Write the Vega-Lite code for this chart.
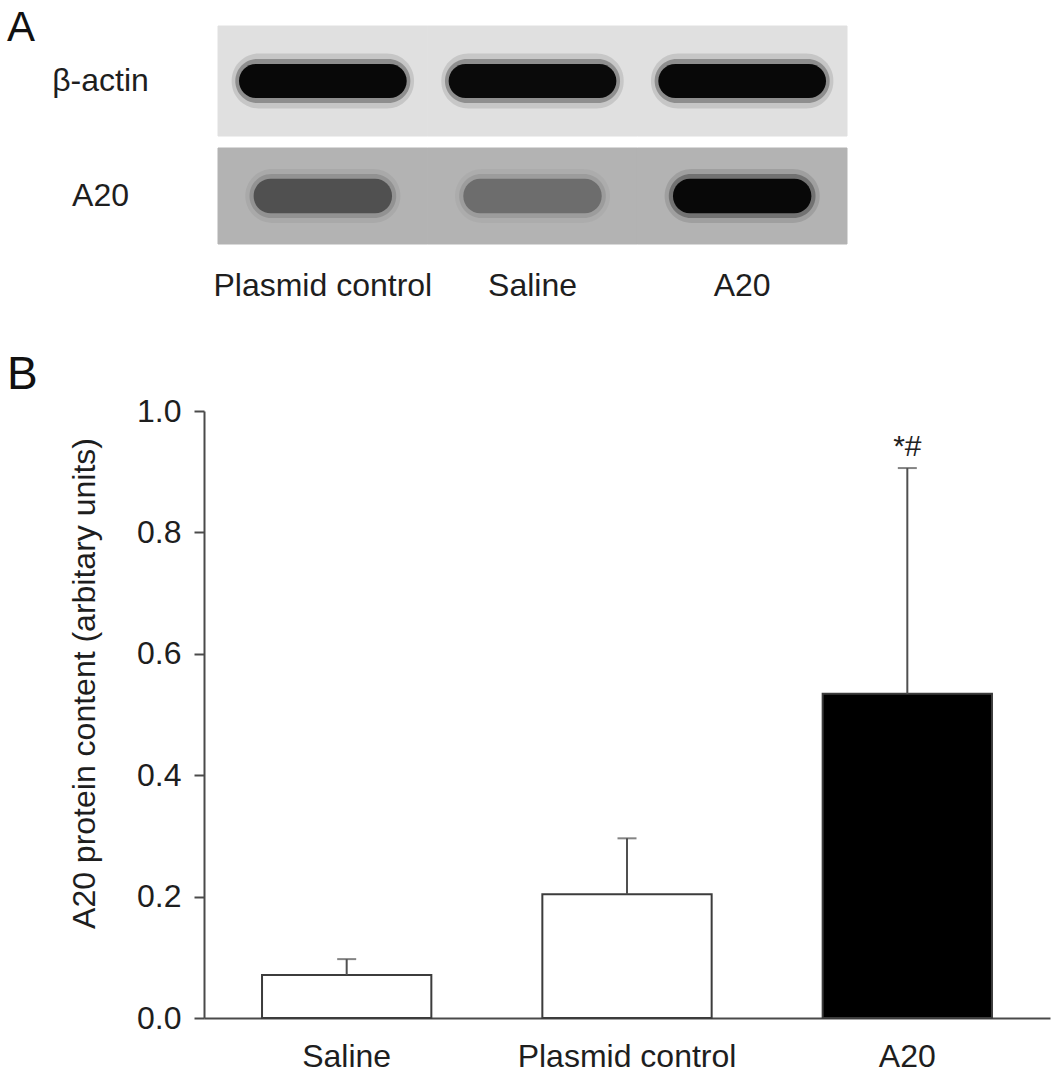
{
  "$schema": "https://vega.github.io/schema/vega-lite/v6.json",
  "padding": {"left": 7, "top": 6, "right": 13, "bottom": 5},
  "background": "white",
  "config": {
    "font": "Liberation Sans",
    "view": {"stroke": null},
    "axis": {"grid": false, "labelFont": "Liberation Sans", "titleFont": "Liberation Sans", "labelColor": "#1e1e1e", "titleColor": "#1e1e1e", "titleFontWeight": "normal", "labelLimit": 0},
    "title": {"font": "Liberation Sans", "fontWeight": "normal", "color": "#111111"}
  },
  "datasets": {
    "blot": [
      {"protein": "β-actin", "lane": "Plasmid control", "intensity": 0.94},
      {"protein": "β-actin", "lane": "Saline", "intensity": 0.93},
      {"protein": "β-actin", "lane": "A20", "intensity": 0.94},
      {"protein": "A20", "lane": "Plasmid control", "intensity": 0.45},
      {"protein": "A20", "lane": "Saline", "intensity": 0.3},
      {"protein": "A20", "lane": "A20", "intensity": 0.93}
    ],
    "bars": [
      {"group": "Saline", "mean": 0.071, "upper": 0.097, "sig": ""},
      {"group": "Plasmid control", "mean": 0.204, "upper": 0.296, "sig": ""},
      {"group": "A20", "mean": 0.534, "upper": 0.906, "sig": "*#"}
    ]
  },
  "bounds": "flush",
  "spacing": 385,
  "resolve": {"scale": {"x": "independent", "y": "independent", "fill": "independent", "fillOpacity": "independent"}},
  "vconcat": [
    {
      "title": {"text": "A", "anchor": "start", "frame": "group", "fontSize": 42, "baseline": "alphabetic", "offset": 0, "dx": -197, "dy": 57},
      "bounds": "flush",
      "spacing": 12,
      "resolve": {"scale": {"x": "independent", "y": "independent"}},
      "vconcat": [
        {
          "width": 643,
          "height": 110,
          "data": {"name": "blot"},
          "transform": [{"filter": "datum.protein === 'β-actin'"}],
          "encoding": {
            "x": {"field": "lane", "type": "nominal", "sort": ["Plasmid control", "Saline", "A20"], "scale": {"paddingInner": 0, "paddingOuter": 0.0334, "align": 1}, "axis": null},
            "y": {"field": "protein", "type": "nominal", "scale": {"paddingInner": 0, "paddingOuter": 0}, "axis": {"title": null, "domain": false, "ticks": false, "tickSize": 0, "labelAlign": "center", "labelBaseline": "middle", "labelPadding": 104, "labelFontSize": 32}}
          },
          "layer": [
            {"mark": {"type": "rect", "color": "#e0e0e0", "stroke": "#e0e0e0", "strokeWidth": 1}},
            {"mark": {"type": "rect", "color": "#000000", "opacity": 0.12, "width": {"band": 0.87}, "height": {"band": 0.5}, "cornerRadius": 27},
             "encoding": {"fillOpacity": {"field": "intensity", "type": "quantitative", "scale": {"domain": [0, 1], "range": [0, 1]}, "legend": null}}},
            {"mark": {"type": "rect", "color": "#000000", "opacity": 0.3, "width": {"band": 0.835}, "height": {"band": 0.4}, "cornerRadius": 22},
             "encoding": {"fillOpacity": {"field": "intensity", "type": "quantitative", "scale": {"domain": [0, 1], "range": [0, 1]}, "legend": null}}},
            {"mark": {"type": "rect", "color": "#000000", "width": {"band": 0.8}, "height": {"band": 0.31}, "cornerRadius": 17},
             "encoding": {"fillOpacity": {"field": "intensity", "type": "quantitative", "scale": {"domain": [0, 1], "range": [0, 1]}, "legend": null}}}
          ]
        },
        {
          "width": 643,
          "height": 96,
          "data": {"name": "blot"},
          "transform": [{"filter": "datum.protein === 'A20'"}],
          "encoding": {
            "x": {"field": "lane", "type": "nominal", "sort": ["Plasmid control", "Saline", "A20"], "scale": {"paddingInner": 0, "paddingOuter": 0.0334, "align": 1}, "axis": {"title": null, "labelAngle": 0, "domain": false, "ticks": false, "tickSize": 0, "labelFontSize": 32, "labelPadding": 26}},
            "y": {"field": "protein", "type": "nominal", "scale": {"paddingInner": 0, "paddingOuter": 0}, "axis": {"title": null, "domain": false, "ticks": false, "tickSize": 0, "labelAlign": "center", "labelBaseline": "middle", "labelPadding": 104, "labelFontSize": 32}}
          },
          "layer": [
            {"mark": {"type": "rect", "color": "#b3b3b3", "stroke": "#b3b3b3", "strokeWidth": 1}},
            {"mark": {"type": "rect", "color": "#000000", "opacity": 0.12, "width": {"band": 0.74}, "height": {"band": 0.56}, "cornerRadius": 27},
             "encoding": {"fillOpacity": {"field": "intensity", "type": "quantitative", "scale": {"domain": [0, 1], "range": [0, 1]}, "legend": null}}},
            {"mark": {"type": "rect", "color": "#000000", "opacity": 0.3, "width": {"band": 0.7}, "height": {"band": 0.46}, "cornerRadius": 22},
             "encoding": {"fillOpacity": {"field": "intensity", "type": "quantitative", "scale": {"domain": [0, 1], "range": [0, 1]}, "legend": null}}},
            {"mark": {"type": "rect", "color": "#000000", "width": {"band": 0.66}, "height": {"band": 0.36}, "cornerRadius": 17},
             "encoding": {"fillOpacity": {"field": "intensity", "type": "quantitative", "scale": {"domain": [0, 1], "range": [0, 1]}, "legend": null}}}
          ]
        }
      ]
    },
    {
      "title": {"text": "B", "anchor": "start", "frame": "group", "fontSize": 46, "baseline": "alphabetic", "offset": 0, "dx": -197, "dy": 40},
      "width": 846,
      "height": 607,
      "data": {"name": "bars"},
      "encoding": {
        "x": {"field": "group", "type": "nominal", "sort": ["Saline", "Plasmid control", "A20"], "scale": {"paddingInner": 0.396, "paddingOuter": 0.207}, "axis": {"title": null, "labelAngle": 0, "domainColor": "#4a4a4a", "domainWidth": 2, "ticks": false, "tickSize": 0, "labelFontSize": 32, "labelPadding": 23}}
      },
      "layer": [
        {"mark": {"type": "bar", "stroke": "#3c3c3c", "strokeWidth": 2},
         "encoding": {
           "y": {"field": "mean", "type": "quantitative", "scale": {"domain": [0, 1], "nice": false}, "axis": {"title": "A20 protein content (arbitary units)", "values": [0, 0.2, 0.4, 0.6, 0.8, 1], "format": ".1f", "domainColor": "#4a4a4a", "domainWidth": 2, "tickColor": "#4a4a4a", "tickWidth": 2, "tickSize": 10, "labelFontSize": 32, "labelPadding": 13, "titleFontSize": 32, "titlePadding": 35, "titleY": 272}},
           "fill": {"field": "group", "type": "nominal", "scale": {"domain": ["Saline", "Plasmid control", "A20"], "range": ["#ffffff", "#ffffff", "#000000"]}, "legend": null}
         }},
        {"mark": {"type": "rule", "color": "#505050", "strokeWidth": 2},
         "encoding": {"y": {"field": "mean", "type": "quantitative"}, "y2": {"field": "upper"}}},
        {"mark": {"type": "tick", "color": "#505050", "thickness": 2, "size": 19},
         "encoding": {"y": {"field": "upper", "type": "quantitative"}}},
        {"mark": {"type": "text", "fontSize": 30, "baseline": "alphabetic", "dy": -12, "color": "#222222", "letterSpacing": 3},
         "encoding": {"y": {"field": "upper", "type": "quantitative"}, "text": {"field": "sig"}}}
      ]
    }
  ]
}
